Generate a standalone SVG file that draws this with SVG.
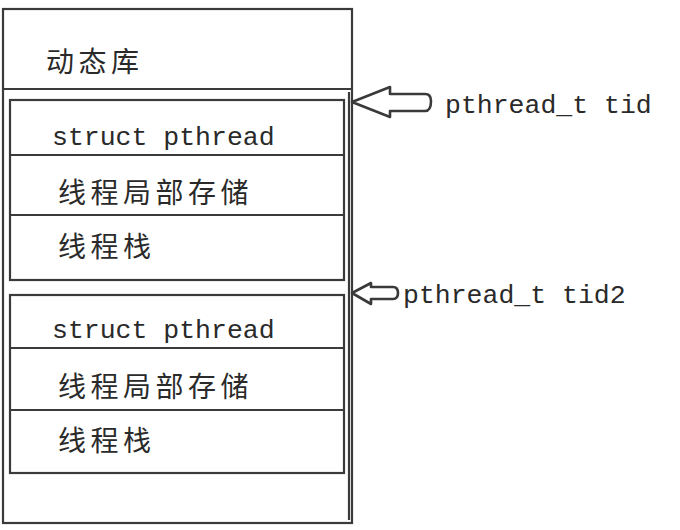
<svg xmlns="http://www.w3.org/2000/svg" width="680" height="530" viewBox="0 0 680 530">
<style>
.box{fill:#fff;stroke:#3a3a3a;stroke-width:2.2}
.div{stroke:#3a3a3a;stroke-width:2.2;fill:none}
.cjk{font-family:"Noto Sans CJK SC","Noto Sans CJK JP",sans-serif;font-size:28px;fill:#2a2a2a;letter-spacing:4.5px}
.mono{font-family:"Liberation Mono","DejaVu Sans Mono",monospace;font-size:26.5px;fill:#2a2a2a}
.arrow{fill:#fff;stroke:#3a3a3a;stroke-width:2.6;stroke-linejoin:round}
</style>
<rect width="680" height="530" fill="#fff"/>
<g id="outer">
<rect class="box" x="3" y="9" width="349" height="514"/>
<line class="div" x1="3" y1="89" x2="352" y2="89"/>
<line class="div" x1="349" y1="92" x2="349" y2="520" stroke-width="1.5"/>
</g>
<g id="dynlib">
<text class="cjk" x="46" y="72">动态库</text>
</g>
<g id="thread1">
<rect class="box" x="10" y="100" width="334" height="180"/>
<line class="div" x1="10" y1="155" x2="344" y2="155"/>
<line class="div" x1="10" y1="215" x2="344" y2="215"/>
<text class="mono" x="52" y="145">struct pthread</text>
<text class="cjk" x="58" y="203">线程局部存储</text>
<text class="cjk" x="58" y="257">线程栈</text>
</g>
<g id="thread2">
<rect class="box" x="10" y="295" width="334" height="178"/>
<line class="div" x1="10" y1="348" x2="344" y2="348"/>
<line class="div" x1="10" y1="410" x2="344" y2="410"/>
<text class="mono" x="52" y="338">struct pthread</text>
<text class="cjk" x="58" y="397">线程局部存储</text>
<text class="cjk" x="58" y="451">线程栈</text>
</g>
<g id="connectors">
<path class="arrow" d="M352,102 L390,87 L390,94 L425,94 Q431,94 431,101 Q431,111 425,111 L390,111 L390,117 Z"/>
<path class="arrow" d="M352,293 L371,283 L371,287 L393,287 Q398,287 398,293 Q398,299 393,299 L371,299 L371,304 Z"/>
</g>
<g id="labels">
<text class="mono" x="445" y="113">pthread_t tid</text>
<text class="mono" x="403" y="303">pthread_t tid2</text>
</g>
</svg>
